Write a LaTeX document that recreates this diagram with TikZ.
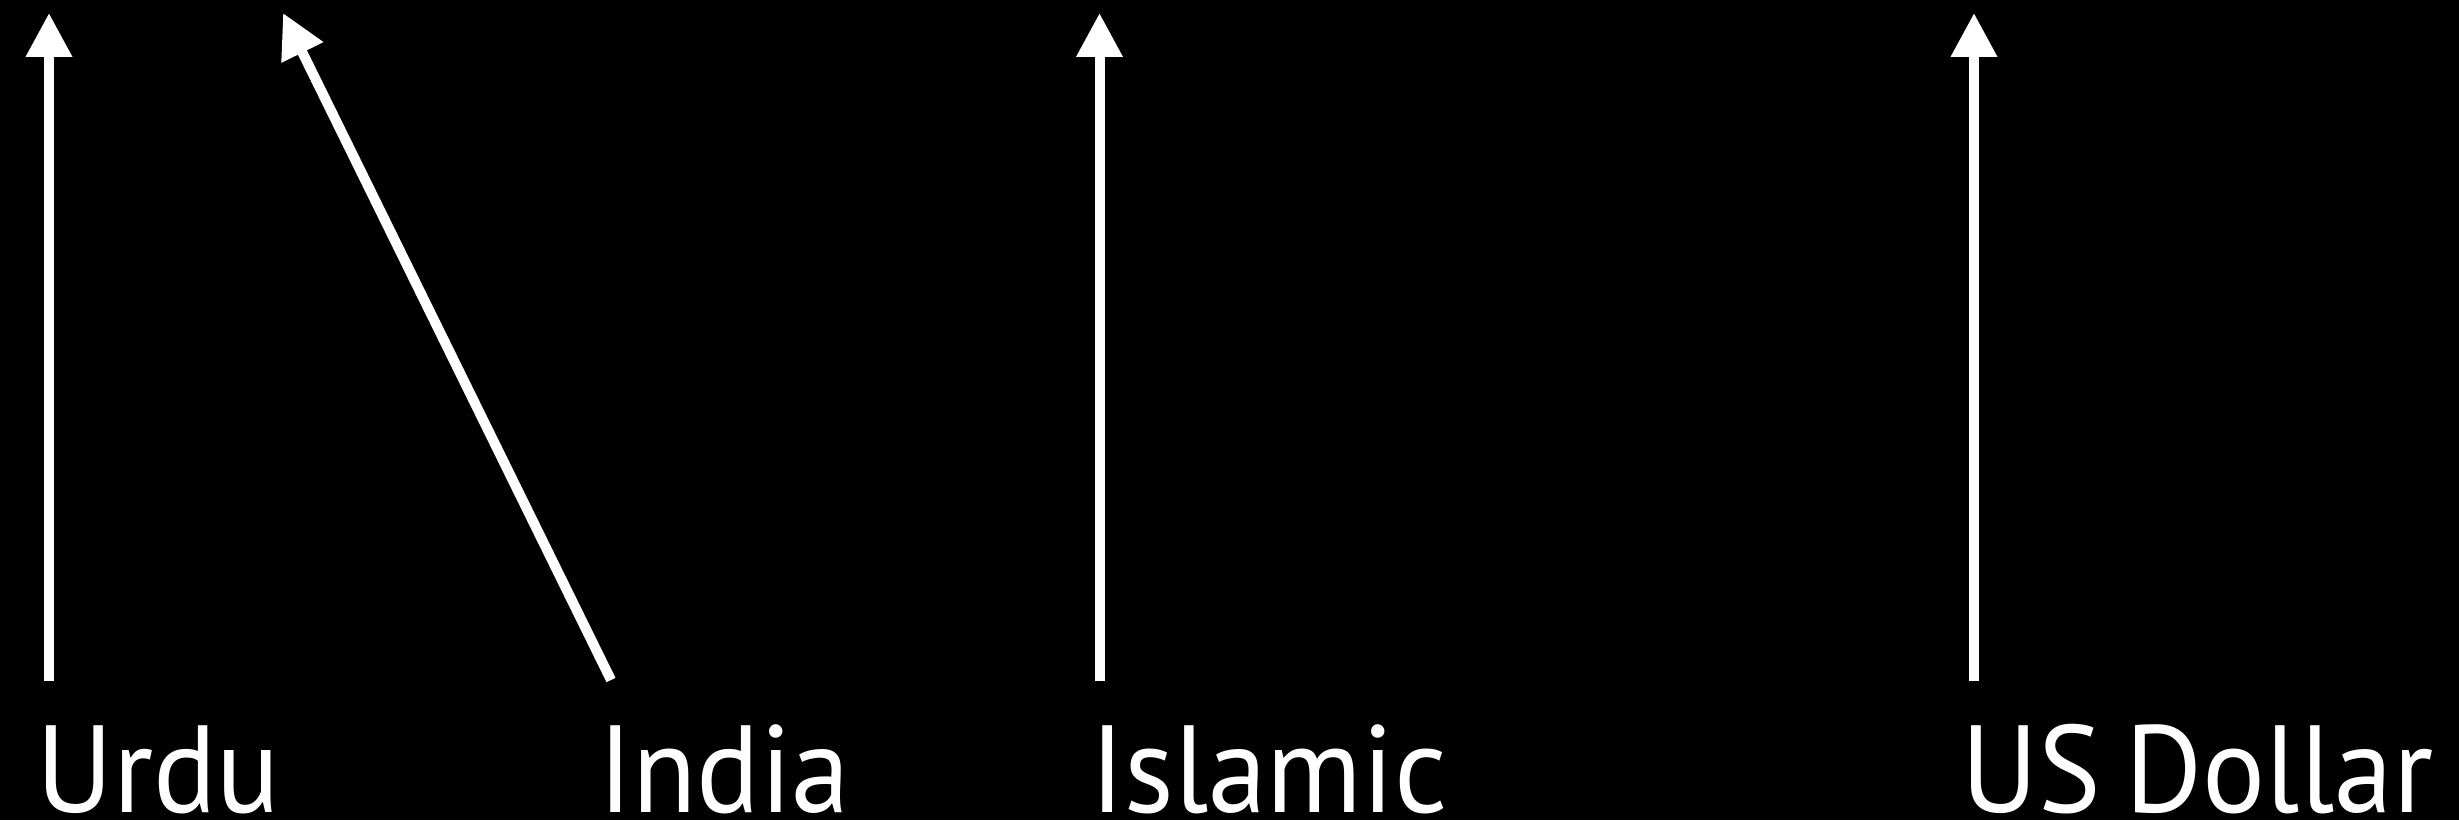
\documentclass[tikz,border=0pt]{standalone}
\usepackage{fontspec}
\setmainfont[FakeStretch=0.95,WordSpace=0.8]{PT Sans}
\usetikzlibrary{arrows.meta}
\begin{document}
\begin{tikzpicture}[x=1pt,y=1pt,
  lbl/.style={anchor=base west,inner sep=0pt,text depth=0pt,text=white,font=\fontsize{124}{124}\selectfont},
  arr/.style={draw=white,line width=10pt,-{Triangle[length=44pt,width=44pt]}}]
\fill[black] (0,0) rectangle (2459,820);
\useasboundingbox (0,0) rectangle (2459,820);
\node[lbl] (urdu) at (36,8) {Urdu};
\node[lbl] (india) at (598,8) {India};
\node[lbl] (islamic) at (1090,8) {Islamic};
\node[lbl] (usd) at (1961,8) {US Dollar};
\coordinate (urduB) at (49,139);
\coordinate (urduT) at (49,807);
\coordinate (indiaB) at (611,140);
\coordinate (indiaT) at (283,807);
\coordinate (islB) at (1099.5,139);
\coordinate (islT) at (1099.5,807);
\coordinate (usdB) at (1974,139);
\coordinate (usdT) at (1974,807);
\draw[arr] (urduB) -- (urduT);
\draw[arr] (indiaB) -- (indiaT);
\draw[arr] (islB) -- (islT);
\draw[arr] (usdB) -- (usdT);
\end{tikzpicture}
\end{document}
